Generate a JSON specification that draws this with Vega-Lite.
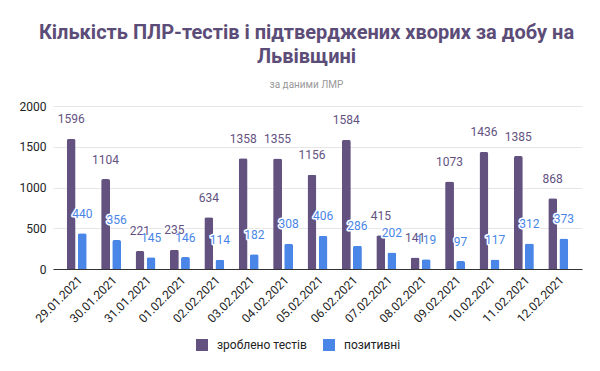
{
  "$schema": "https://vega.github.io/schema/vega-lite/v6.json",
  "width": 529,
  "height": 163,
  "autosize": "none",
  "padding": {"left": 53, "top": 106, "right": 18, "bottom": 102},
  "background": "white",
  "config": {"font": "Roboto", "view": {"stroke": null}},
  "title": {
    "text": ["Кількість ПЛР-тестів і підтверджених хворих за добу на", "Львівщині"],
    "subtitle": "за даними ЛМР",
    "anchor": "middle",
    "fontSize": 20,
    "fontWeight": "bold",
    "color": "#5c4d78",
    "lineHeight": 24,
    "subtitleFontSize": 10,
    "subtitleColor": "#999999",
    "subtitlePadding": 13,
    "offset": 10,
    "dx": -11
  },
  "data": {
    "values": [
      {"date": "29.01.2021", "series": "зроблено тестів", "value": 1596},
      {"date": "29.01.2021", "series": "позитивні", "value": 440},
      {"date": "30.01.2021", "series": "зроблено тестів", "value": 1104},
      {"date": "30.01.2021", "series": "позитивні", "value": 356},
      {"date": "31.01.2021", "series": "зроблено тестів", "value": 221},
      {"date": "31.01.2021", "series": "позитивні", "value": 145},
      {"date": "01.02.2021", "series": "зроблено тестів", "value": 235},
      {"date": "01.02.2021", "series": "позитивні", "value": 146},
      {"date": "02.02.2021", "series": "зроблено тестів", "value": 634},
      {"date": "02.02.2021", "series": "позитивні", "value": 114},
      {"date": "03.02.2021", "series": "зроблено тестів", "value": 1358},
      {"date": "03.02.2021", "series": "позитивні", "value": 182},
      {"date": "04.02.2021", "series": "зроблено тестів", "value": 1355},
      {"date": "04.02.2021", "series": "позитивні", "value": 308},
      {"date": "05.02.2021", "series": "зроблено тестів", "value": 1156},
      {"date": "05.02.2021", "series": "позитивні", "value": 406},
      {"date": "06.02.2021", "series": "зроблено тестів", "value": 1584},
      {"date": "06.02.2021", "series": "позитивні", "value": 286},
      {"date": "07.02.2021", "series": "зроблено тестів", "value": 415},
      {"date": "07.02.2021", "series": "позитивні", "value": 202},
      {"date": "08.02.2021", "series": "зроблено тестів", "value": 141},
      {"date": "08.02.2021", "series": "позитивні", "value": 119},
      {"date": "09.02.2021", "series": "зроблено тестів", "value": 1073},
      {"date": "09.02.2021", "series": "позитивні", "value": 97},
      {"date": "10.02.2021", "series": "зроблено тестів", "value": 1436},
      {"date": "10.02.2021", "series": "позитивні", "value": 117},
      {"date": "11.02.2021", "series": "зроблено тестів", "value": 1385},
      {"date": "11.02.2021", "series": "позитивні", "value": 312},
      {"date": "12.02.2021", "series": "зроблено тестів", "value": 868},
      {"date": "12.02.2021", "series": "позитивні", "value": 373}
    ]
  },
  "encoding": {
    "x": {
      "field": "date",
      "type": "nominal",
      "sort": null,
      "scale": {"paddingInner": 0.42, "paddingOuter": 0.4},
      "axis": {
        "title": null,
        "labelAngle": -45,
        "labelAlign": "right",
        "labelBaseline": "top",
        "labelFontSize": 12,
        "labelColor": "#222222",
        "ticks": false,
        "domainColor": "#333333",
        "labelPadding": 5,
        "grid": false
      }
    },
    "xOffset": {
      "field": "series",
      "type": "nominal",
      "sort": ["зроблено тестів", "позитивні"],
      "scale": {"paddingInner": 0.2}
    },
    "y": {
      "field": "value",
      "type": "quantitative",
      "scale": {"domain": [0, 2000]},
      "axis": {
        "title": null,
        "values": [0, 500, 1000, 1500, 2000],
        "format": "d",
        "labelFontSize": 12,
        "labelColor": "#222222",
        "ticks": false,
        "domain": false,
        "gridColor": "#e6e6e6",
        "labelPadding": 7
      }
    }
  },
  "layer": [
    {
      "mark": {"type": "bar", "cornerRadiusTopLeft": 2, "cornerRadiusTopRight": 2},
      "encoding": {
        "color": {
          "field": "series",
          "type": "nominal",
          "sort": ["зроблено тестів", "позитивні"],
          "scale": {"domain": ["зроблено тестів", "позитивні"], "range": ["#63527f", "#4a86e8"]},
          "legend": {
            "orient": "none",
            "legendX": 143,
            "legendY": 233,
            "direction": "horizontal",
            "title": null,
            "symbolType": "square",
            "symbolSize": 144,
            "symbolStrokeWidth": 0,
            "labelFontSize": 12,
            "labelColor": "#222222",
            "columnPadding": 16,
            "labelOffset": 9
          }
        }
      }
    },
    {
      "mark": {"type": "text", "dy": -19.5, "baseline": "middle", "fontSize": 12, "fill": "white", "stroke": "white", "strokeWidth": 3, "strokeJoin": "round"},
      "encoding": {"text": {"field": "value", "type": "quantitative", "format": "d"}}
    },
    {
      "mark": {"type": "text", "dy": -19.5, "baseline": "middle", "fontSize": 12},
      "encoding": {
        "text": {"field": "value", "type": "quantitative", "format": "d"},
        "color": {
          "field": "series",
          "type": "nominal",
          "sort": ["зроблено тестів", "позитивні"],
          "scale": {"domain": ["зроблено тестів", "позитивні"], "range": ["#63527f", "#4a86e8"]},
          "legend": null
        }
      }
    }
  ]
}
